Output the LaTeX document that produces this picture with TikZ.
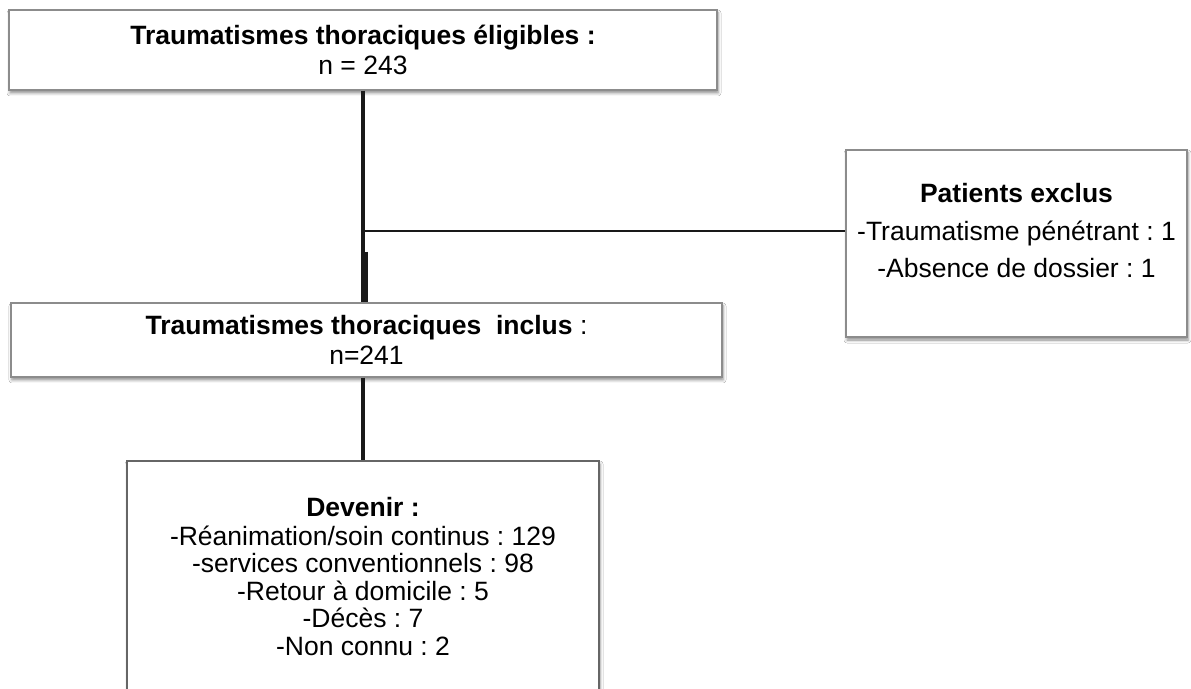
\documentclass[tikz,border=0pt]{standalone}
\usepackage{fontspec}
\setmainfont{Liberation Sans}
\usetikzlibrary{shadows.blur}
\frenchspacing

\begin{document}
\begin{tikzpicture}[x=0.5pt,y=-0.5pt]
    \tikzset{boite/.style={draw=black!45, line width=0.65pt, fill=white, align=center, inner sep=0pt,
        blur shadow={shadow xshift=0.5pt, shadow yshift=-1.5pt, shadow blur radius=1.5pt, shadow opacity=45},
        font=\fontsize{13.25}{15}\selectfont},
        trait/.style={draw=black!90, line width=2.35pt},
        filet/.style={draw=black!90, line width=0.65pt}}
    \clip (0,0) rectangle (1191,689);
    \fill[white] (0,0) rectangle (1191,689);

    \node[boite, minimum width=354pt, minimum height=40pt] (elig) at (363,50)
        {\textbf{Traumatismes thoraciques éligibles :}\\n = 243};
    \node[boite, minimum width=355.5pt, minimum height=37pt] (incl) at (366.5,340)
        {\textbf{Traumatismes thoraciques\ \ inclus} :\\n=241};
    \node[boite, minimum width=170.5pt, minimum height=93.5pt, text depth=13pt,
        font=\fontsize{13.25}{18.75}\selectfont] (excl) at (1016.5,243.5)
        {\textbf{Patients exclus}\\-Traumatisme pénétrant : 1\\-Absence de dossier : 1};
    \node[boite, draw=black!60, minimum width=236pt, minimum height=115.5pt,
        font=\fontsize{13.25}{13.75}\selectfont] (dev) at (363,576.5)
        {\textbf{Devenir :}\\[0.75pt]-Réanimation/soin continus : 129\\-services conventionnels : 98\\
        -Retour à domicile : 5\\-Décès : 7\\-Non connu : 2};

    \coordinate (bif) at (363,231);
    \coordinate (bif2) at (366,252);
    \draw[trait] (elig.south) -- (elig.south |- incl.north);
    \draw[trait] (bif2) -- (bif2 |- incl.north);
    \draw[filet] (bif) -- (bif -| excl.west);
    \draw[trait] (dev.north |- incl.south) -- (dev.north);
\end{tikzpicture}
\end{document}
